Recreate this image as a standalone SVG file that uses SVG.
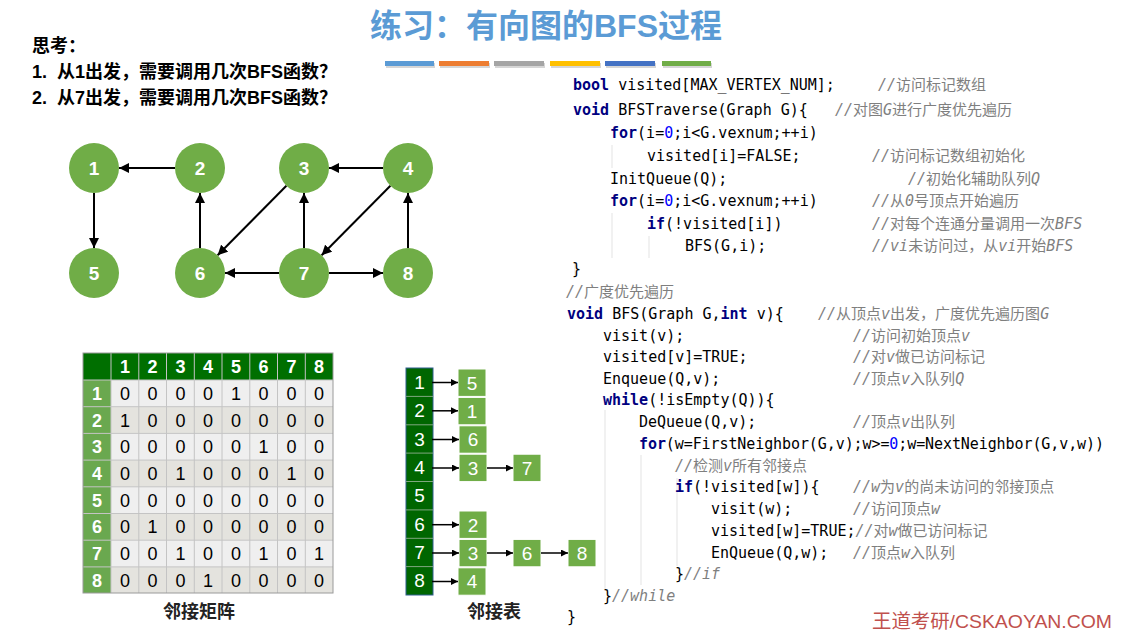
<svg xmlns="http://www.w3.org/2000/svg" width="1126" height="635" viewBox="0 0 1126 635">
<style>
.title{font-family:"Liberation Sans","Noto Sans CJK SC",sans-serif;font-size:32px;font-weight:bold;fill:#5b9bd5}
.q{font-family:"Liberation Sans","Noto Sans CJK SC",sans-serif;font-size:18px;font-weight:bold;fill:#000}
.node circle{fill:#70ad47}
.node text{font-family:"Liberation Sans",sans-serif;font-size:19px;font-weight:bold;fill:#fff;text-anchor:middle}
.edge{stroke:#000;stroke-width:2;fill:none;marker-end:url(#arr)}
.ledge{stroke:#000;stroke-width:1.5;fill:none;marker-end:url(#arrs)}
.mt{font-family:"Liberation Sans",sans-serif;font-size:18px;fill:#000;text-anchor:middle}
.mh{font-family:"Liberation Sans",sans-serif;font-size:18px;font-weight:bold;fill:#fff;text-anchor:middle}
.lt{font-family:"Liberation Sans",sans-serif;font-size:19px;fill:#fff;text-anchor:middle}
.cap{font-family:"Liberation Sans","Noto Sans CJK SC",sans-serif;font-size:18px;font-weight:bold;fill:#222;text-anchor:middle}
.code{font-family:"DejaVu Sans Mono",monospace;font-size:15px;fill:#000}
.kw{fill:#000080;font-weight:bold}
.num{fill:#0000ff}
.cm{font-family:"DejaVu Sans Mono","Noto Sans CJK SC",monospace;font-size:15px;fill:#7f7f7f}
.it{font-style:italic}
.guide{stroke:#e3e3e3;stroke-width:1}
.wm{font-family:"Liberation Sans","Noto Sans CJK SC",sans-serif;font-size:19px;fill:#c0504d}
</style>
<defs>
<marker id="arr" viewBox="0 0 10 10" refX="10" refY="5" markerWidth="10" markerHeight="10" markerUnits="userSpaceOnUse" orient="auto"><path d="M0,0 L10,5 L0,10 z" fill="#000"/></marker>
<marker id="arrs" viewBox="0 0 10 10" refX="10" refY="5" markerWidth="7" markerHeight="7" markerUnits="userSpaceOnUse" orient="auto"><path d="M0,0 L10,5 L0,10 z" fill="#000"/></marker>
</defs>
<rect width="1126" height="635" fill="#fff"/>

<g id="title">
<text class="title" x="370" y="37">练习：有向图的BFS过程</text>
<g>
<rect x="386" y="63" width="49" height="5" fill="#bbb" opacity="0.6"/>
<rect x="385" y="61" width="49" height="5" fill="#5b9bd5"/>
<rect x="440" y="63" width="50" height="5" fill="#bbb" opacity="0.6"/>
<rect x="439" y="61" width="50" height="5" fill="#ed7d31"/>
<rect x="495" y="63" width="50" height="5" fill="#bbb" opacity="0.6"/>
<rect x="494" y="61" width="50" height="5" fill="#a5a5a5"/>
<rect x="551" y="63" width="50" height="5" fill="#bbb" opacity="0.6"/>
<rect x="550" y="61" width="50" height="5" fill="#ffc000"/>
<rect x="606" y="63" width="50" height="5" fill="#bbb" opacity="0.6"/>
<rect x="605" y="61" width="50" height="5" fill="#4472c4"/>
<rect x="663" y="63" width="49" height="5" fill="#bbb" opacity="0.6"/>
<rect x="662" y="61" width="49" height="5" fill="#70ad47"/>
</g>
</g>

<g id="questions">
<text class="q" x="32" y="52">思考：</text>
<text class="q" x="32" y="78">1.<tspan x="57">从1出发，需要调用几次BFS函数？</tspan></text>
<text class="q" x="32" y="104">2.<tspan x="57">从7出发，需要调用几次BFS函数？</tspan></text>
</g>

<g id="connectors">
<line class="edge" x1="175" y1="168" x2="119" y2="168"/>
<line class="edge" x1="94" y1="193" x2="94" y2="248"/>
<line class="edge" x1="200" y1="248" x2="200" y2="193"/>
<line class="edge" x1="286.4" y1="185.8" x2="217.6" y2="255.3"/>
<line class="edge" x1="304" y1="248" x2="304" y2="193"/>
<line class="edge" x1="383" y1="168" x2="329" y2="168"/>
<line class="edge" x1="390.4" y1="185.8" x2="321.6" y2="255.3"/>
<line class="edge" x1="408" y1="248" x2="408" y2="193"/>
<line class="edge" x1="279" y1="273" x2="225" y2="273"/>
<line class="edge" x1="329" y1="273" x2="383" y2="273"/>
</g>

<g id="n1" class="node"><circle cx="94" cy="168" r="25"/><text x="94" y="175">1</text></g>
<g id="n2" class="node"><circle cx="200" cy="168" r="25"/><text x="200" y="175">2</text></g>
<g id="n3" class="node"><circle cx="304" cy="168" r="25"/><text x="304" y="175">3</text></g>
<g id="n4" class="node"><circle cx="408" cy="168" r="25"/><text x="408" y="175">4</text></g>
<g id="n5" class="node"><circle cx="94" cy="273" r="25"/><text x="94" y="280">5</text></g>
<g id="n6" class="node"><circle cx="200" cy="273" r="25"/><text x="200" y="280">6</text></g>
<g id="n7" class="node"><circle cx="304" cy="273" r="25"/><text x="304" y="280">7</text></g>
<g id="n8" class="node"><circle cx="408" cy="273" r="25"/><text x="408" y="280">8</text></g>

<g id="matrix">
<rect x="83" y="353" width="250" height="27" fill="#006f00"/>
<rect x="83" y="380" width="28" height="213" fill="#6aa84f"/>
<rect x="111" y="380" width="222" height="26.7" fill="#efefef"/>
<rect x="111" y="406.7" width="222" height="26.7" fill="#e4e3de"/>
<rect x="111" y="433.4" width="222" height="26.7" fill="#efefef"/>
<rect x="111" y="460.1" width="222" height="26.7" fill="#e4e3de"/>
<rect x="111" y="486.8" width="222" height="26.7" fill="#efefef"/>
<rect x="111" y="513.5" width="222" height="26.7" fill="#e4e3de"/>
<rect x="111" y="540.2" width="222" height="26.7" fill="#efefef"/>
<rect x="111" y="566.9" width="222" height="26.1" fill="#e4e3de"/>
<g stroke="#c4c4c4" stroke-width="1">
<line x1="83" y1="406.7" x2="333" y2="406.7"/>
<line x1="83" y1="433.4" x2="333" y2="433.4"/>
<line x1="83" y1="460.1" x2="333" y2="460.1"/>
<line x1="83" y1="486.8" x2="333" y2="486.8"/>
<line x1="83" y1="513.5" x2="333" y2="513.5"/>
<line x1="83" y1="540.2" x2="333" y2="540.2"/>
<line x1="83" y1="566.9" x2="333" y2="566.9"/>
<line x1="111" y1="353" x2="111" y2="593"/>
<line x1="138.8" y1="353" x2="138.8" y2="593"/>
<line x1="166.5" y1="353" x2="166.5" y2="593"/>
<line x1="194.3" y1="353" x2="194.3" y2="593"/>
<line x1="222" y1="353" x2="222" y2="593"/>
<line x1="249.8" y1="353" x2="249.8" y2="593"/>
<line x1="277.5" y1="353" x2="277.5" y2="593"/>
<line x1="305.3" y1="353" x2="305.3" y2="593"/>
<line x1="83" y1="380" x2="333" y2="380"/>
</g>
<rect x="83" y="353" width="250" height="240" fill="none" stroke="#9a9a9a" stroke-width="1"/>
<g class="mh">
<text x="124.9" y="373">1</text><text x="152.6" y="373">2</text><text x="180.4" y="373">3</text><text x="208.1" y="373">4</text>
<text x="235.9" y="373">5</text><text x="263.6" y="373">6</text><text x="291.4" y="373">7</text><text x="319.1" y="373">8</text>
<text x="97" y="400">1</text><text x="97" y="427">2</text><text x="97" y="453">3</text><text x="97" y="480">4</text>
<text x="97" y="507">5</text><text x="97" y="533">6</text><text x="97" y="560">7</text><text x="97" y="587">8</text>
</g>
<g class="mt">
<text y="400"><tspan x="124.9">0</tspan><tspan x="152.6">0</tspan><tspan x="180.4">0</tspan><tspan x="208.1">0</tspan><tspan x="235.9">1</tspan><tspan x="263.6">0</tspan><tspan x="291.4">0</tspan><tspan x="319.1">0</tspan></text>
<text y="427"><tspan x="124.9">1</tspan><tspan x="152.6">0</tspan><tspan x="180.4">0</tspan><tspan x="208.1">0</tspan><tspan x="235.9">0</tspan><tspan x="263.6">0</tspan><tspan x="291.4">0</tspan><tspan x="319.1">0</tspan></text>
<text y="453"><tspan x="124.9">0</tspan><tspan x="152.6">0</tspan><tspan x="180.4">0</tspan><tspan x="208.1">0</tspan><tspan x="235.9">0</tspan><tspan x="263.6">1</tspan><tspan x="291.4">0</tspan><tspan x="319.1">0</tspan></text>
<text y="480"><tspan x="124.9">0</tspan><tspan x="152.6">0</tspan><tspan x="180.4">1</tspan><tspan x="208.1">0</tspan><tspan x="235.9">0</tspan><tspan x="263.6">0</tspan><tspan x="291.4">1</tspan><tspan x="319.1">0</tspan></text>
<text y="507"><tspan x="124.9">0</tspan><tspan x="152.6">0</tspan><tspan x="180.4">0</tspan><tspan x="208.1">0</tspan><tspan x="235.9">0</tspan><tspan x="263.6">0</tspan><tspan x="291.4">0</tspan><tspan x="319.1">0</tspan></text>
<text y="533"><tspan x="124.9">0</tspan><tspan x="152.6">1</tspan><tspan x="180.4">0</tspan><tspan x="208.1">0</tspan><tspan x="235.9">0</tspan><tspan x="263.6">0</tspan><tspan x="291.4">0</tspan><tspan x="319.1">0</tspan></text>
<text y="560"><tspan x="124.9">0</tspan><tspan x="152.6">0</tspan><tspan x="180.4">1</tspan><tspan x="208.1">0</tspan><tspan x="235.9">0</tspan><tspan x="263.6">1</tspan><tspan x="291.4">0</tspan><tspan x="319.1">1</tspan></text>
<text y="587"><tspan x="124.9">0</tspan><tspan x="152.6">0</tspan><tspan x="180.4">0</tspan><tspan x="208.1">1</tspan><tspan x="235.9">0</tspan><tspan x="263.6">0</tspan><tspan x="291.4">0</tspan><tspan x="319.1">0</tspan></text>
</g>
<text class="cap" x="199" y="618">邻接矩阵</text>
</g>

<g id="adjlist">
<rect x="406" y="368" width="27" height="227" fill="#006600" stroke="#2f5f8f" stroke-width="1"/>
<g stroke="#7fa77f" stroke-width="1">
<line x1="406" y1="396.4" x2="433" y2="396.4"/>
<line x1="406" y1="424.8" x2="433" y2="424.8"/>
<line x1="406" y1="453.1" x2="433" y2="453.1"/>
<line x1="406" y1="481.5" x2="433" y2="481.5"/>
<line x1="406" y1="509.9" x2="433" y2="509.9"/>
<line x1="406" y1="538.3" x2="433" y2="538.3"/>
<line x1="406" y1="566.6" x2="433" y2="566.6"/>
</g>
<g class="lt">
<text x="419.5" y="389">1</text><text x="419.5" y="417">2</text><text x="419.5" y="446">3</text><text x="419.5" y="474">4</text>
<text x="419.5" y="502">5</text><text x="419.5" y="531">6</text><text x="419.5" y="559">7</text><text x="419.5" y="587">8</text>
</g>
<g fill="#70ad47" stroke="#fff" stroke-width="1">
<rect x="458" y="369" width="28" height="27.4"/>
<rect x="458" y="397.4" width="28" height="27.4"/>
<rect x="459" y="425.8" width="28" height="27.4"/>
<rect x="459" y="454.2" width="28" height="27.4"/>
<rect x="513" y="454.2" width="28" height="27.4"/>
<rect x="459" y="511" width="28" height="27.4"/>
<rect x="459" y="539.4" width="28" height="27.4"/>
<rect x="513" y="539.4" width="28" height="27.4"/>
<rect x="568" y="539.4" width="28" height="27.4"/>
<rect x="458" y="567.8" width="28" height="27.4"/>
</g>
<g class="lt">
<text x="472" y="390">5</text>
<text x="472" y="418">1</text>
<text x="473" y="446">6</text>
<text x="473" y="475">3</text>
<text x="527" y="475">7</text>
<text x="473" y="532">2</text>
<text x="473" y="560">3</text>
<text x="527" y="560">6</text>
<text x="582" y="560">8</text>
<text x="472" y="588">4</text>
</g>
<g>
<line class="ledge" x1="432" y1="382.5" x2="458" y2="382.5"/>
<line class="ledge" x1="432" y1="410.8" x2="458" y2="410.8"/>
<line class="ledge" x1="432" y1="439.5" x2="459" y2="439.5"/>
<line class="ledge" x1="432" y1="468" x2="459" y2="468"/>
<line class="ledge" x1="487" y1="468" x2="513" y2="468"/>
<line class="ledge" x1="432" y1="524.7" x2="459" y2="524.7"/>
<line class="ledge" x1="432" y1="553" x2="459" y2="553"/>
<line class="ledge" x1="487" y1="553" x2="513" y2="553"/>
<line class="ledge" x1="541" y1="553" x2="568" y2="553"/>
<line class="ledge" x1="432" y1="581.5" x2="458" y2="581.5"/>
</g>
<text class="cap" x="494" y="618">邻接表</text>
</g>

<g id="code">
<g class="guide">
<line x1="575" y1="262" x2="575" y2="277"/>
<line x1="612" y1="145" x2="612" y2="168"/>
<line x1="612" y1="213" x2="612" y2="258"/>
<line x1="649" y1="236" x2="649" y2="258"/>
<line x1="605" y1="410" x2="605" y2="590"/>
<line x1="641" y1="455" x2="641" y2="585"/>
<line x1="677" y1="478" x2="677" y2="566"/>
</g>
<text class="code" x="573" y="90"><tspan class="kw">bool</tspan> visited[MAX_VERTEX_NUM];</text>
<text class="cm" x="878" y="90"><tspan class="it">//</tspan>访问标记数组</text>
<text class="code" x="573" y="115"><tspan class="kw">void</tspan> BFSTraverse(Graph G){</text>
<text class="cm" x="835" y="115"><tspan class="it">//</tspan>对图<tspan class="it">G</tspan>进行广度优先遍历</text>
<text class="code" x="610" y="138"><tspan class="kw">for</tspan>(i=<tspan class="num">0</tspan>;i&lt;G.vexnum;++i)</text>
<text class="code" x="647" y="161">visited[i]=FALSE;</text>
<text class="cm" x="872" y="161"><tspan class="it">//</tspan>访问标记数组初始化</text>
<text class="code" x="610" y="184">InitQueue(Q);</text>
<text class="cm" x="908" y="184"><tspan class="it">//</tspan>初始化辅助队列<tspan class="it">Q</tspan></text>
<text class="code" x="610" y="206"><tspan class="kw">for</tspan>(i=<tspan class="num">0</tspan>;i&lt;G.vexnum;++i)</text>
<text class="cm" x="872" y="206"><tspan class="it">//</tspan>从<tspan class="it">0</tspan>号顶点开始遍历</text>
<text class="code" x="647" y="229"><tspan class="kw">if</tspan>(!visited[i])</text>
<text class="cm" x="872" y="229"><tspan class="it">//</tspan>对每个连通分量调用一次<tspan class="it">BFS</tspan></text>
<text class="code" x="685" y="251">BFS(G,i);</text>
<text class="cm" x="872" y="251"><tspan class="it">//vi</tspan>未访问过，从<tspan class="it">vi</tspan>开始<tspan class="it">BFS</tspan></text>
<text class="code" x="572" y="274">}</text>
<text class="cm" x="566" y="297"><tspan class="it">//</tspan>广度优先遍历</text>
<text class="code" x="567" y="319"><tspan class="kw">void</tspan> BFS(Graph G,<tspan class="kw">int</tspan> v){</text>
<text class="cm" x="818" y="319"><tspan class="it">//</tspan>从顶点<tspan class="it">v</tspan>出发，广度优先遍历图<tspan class="it">G</tspan></text>
<text class="code" x="603" y="341">visit(v);</text>
<text class="cm" x="853" y="341"><tspan class="it">//</tspan>访问初始顶点<tspan class="it">v</tspan></text>
<text class="code" x="603" y="362">visited[v]=TRUE;</text>
<text class="cm" x="853" y="362"><tspan class="it">//</tspan>对<tspan class="it">v</tspan>做已访问标记</text>
<text class="code" x="603" y="384">Enqueue(Q,v);</text>
<text class="cm" x="853" y="384"><tspan class="it">//</tspan>顶点<tspan class="it">v</tspan>入队列<tspan class="it">Q</tspan></text>
<text class="code" x="603" y="405"><tspan class="kw">while</tspan>(!isEmpty(Q)){</text>
<text class="code" x="639" y="427">DeQueue(Q,v);</text>
<text class="cm" x="853" y="427"><tspan class="it">//</tspan>顶点<tspan class="it">v</tspan>出队列</text>
<text class="code" x="639" y="449" textLength="465"><tspan class="kw">for</tspan>(w=FirstNeighbor(G,v);w&gt;=<tspan class="num">0</tspan>;w=NextNeighbor(G,v,w))</text>
<text class="cm" x="675" y="471"><tspan class="it">//</tspan>检测<tspan class="it">v</tspan>所有邻接点</text>
<text class="code" x="675" y="492"><tspan class="kw">if</tspan>(!visited[w]){</text>
<text class="cm" x="853" y="492"><tspan class="it">//w</tspan>为<tspan class="it">v</tspan>的尚未访问的邻接顶点</text>
<text class="code" x="711" y="514">visit(w);</text>
<text class="cm" x="853" y="514"><tspan class="it">//</tspan>访问顶点<tspan class="it">w</tspan></text>
<text class="code" x="711" y="536">visited[w]=TRUE;<tspan class="cm"><tspan class="it">//</tspan>对<tspan class="it">w</tspan>做已访问标记</tspan></text>
<text class="code" x="711" y="558">EnQueue(Q,w);</text>
<text class="cm" x="853" y="558"><tspan class="it">//</tspan>顶点<tspan class="it">w</tspan>入队列</text>
<text class="code" x="675" y="579">}<tspan class="cm it">//if</tspan></text>
<text class="code" x="603" y="601">}<tspan class="cm it">//while</tspan></text>
<text class="code" x="567" y="622">}</text>
</g>

<text class="wm" x="872" y="628" textLength="240" lengthAdjust="spacingAndGlyphs">王道考研/CSKAOYAN.COM</text>
</svg>
